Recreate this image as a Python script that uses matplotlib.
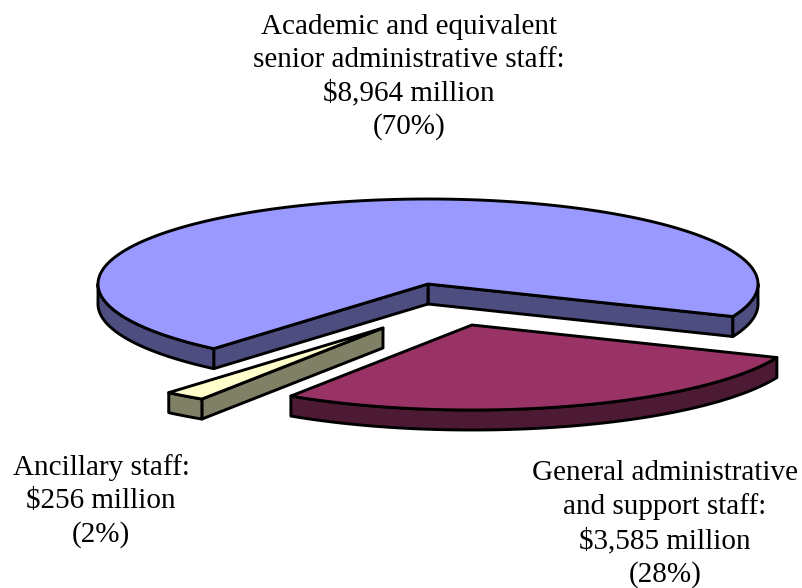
#!/usr/bin/env python
"""Exploded 3D style pie of staff costs, drawn with plain polygons."""
import numpy as np
import matplotlib
matplotlib.use('Agg')
import matplotlib.pyplot as plt
from matplotlib.patches import Polygon

categories = ['Academic', 'Ancillary', 'General']
values = [8964, 256, 3585]
top_colours = ['#9999FF', '#FFFFCC', '#993366']
side_colours = ['#4D4D80', '#808066', '#4D1A33']
# where each slice's apex sits after exploding, in pixels
apexes = [(428, 284), (383, 328), (472, 325)]
labels = [
    'Academic and equivalent\nsenior administrative staff:\n$8,964 million\n(70%)',
    'Ancillary staff:\n$256 million\n(2%)',
    'General administrative\nand support staff:\n$3,585 million\n(28%)',
]
label_pos = [(409, 77), (101, 501), (665, 524)]

RX, RY = 330, 85
DEPTH = 20
START = -22.5
LW = 2.1


def arc(apex, a0, a1):
    t = np.radians(np.linspace(a0, a1, 200))
    return np.column_stack((apex[0] + RX * np.cos(t), apex[1] - RY * np.sin(t)))


def face(ax, pts, colour, zorder):
    ax.add_patch(Polygon(pts, closed=True, facecolor=colour, edgecolor='black',
                         linewidth=LW, joinstyle='round', zorder=zorder))


def side_of(pts):
    return np.vstack((pts, (pts + np.array([0, DEPTH]))[::-1]))


def drawSlice(ax, apex, a0, a1, top, side, zorder):
    centre = np.array([apex], dtype=float)
    p0 = arc(apex, a0, a0)[:1]
    p1 = arc(apex, a1, a1)[:1]
    # radial walls only show when they face the viewer
    if p0[0, 0] > apex[0]:
        face(ax, side_of(np.vstack((centre, p0))), side, zorder)
    if p1[0, 0] < apex[0]:
        face(ax, side_of(np.vstack((centre, p1))), side, zorder)
    # outer rim, only the lower half of the ellipse
    for lo, hi in ((-180, 0), (180, 360), (540, 720)):
        s, e = max(a0, lo), min(a1, hi)
        if e > s:
            face(ax, side_of(arc(apex, s, e)), side, zorder)
    face(ax, np.vstack((centre, arc(apex, a0, a1))), top, zorder + 1)


fig = plt.figure(figsize=(8.02, 5.88), dpi=100)
ax = fig.add_axes([0, 0, 1, 1])
ax.set_xlim(0, 802)
ax.set_ylim(588, 0)
ax.axis('off')

total = float(sum(values))
a = START
for i in range(len(values)):
    sweep = 360.0 * values[i] / total
    drawSlice(ax, apexes[i], a, a + sweep, top_colours[i], side_colours[i], 2 + 2 * i)
    a += sweep

for txt, (x, y) in zip(labels, label_pos):
    ax.text(x, y, txt, ha='center', va='center', family='Liberation Serif',
            fontsize=21, linespacing=1.35, color='black')

fig.savefig('out.png', dpi=100)
